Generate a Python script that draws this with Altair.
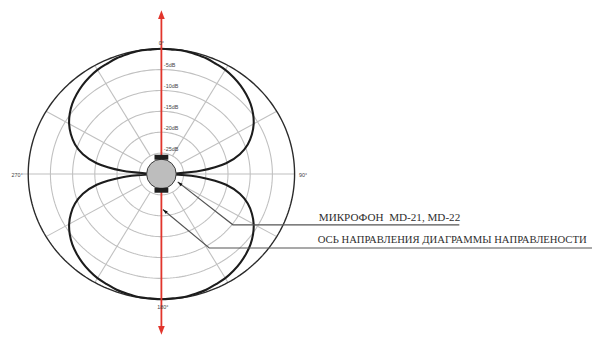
import altair as alt
import pandas as pd
import numpy as np

# ---- data ----
# figure-8 pattern, one quadrant (angle from axis in degrees, level in dB)
quad_angles = [0, 5, 10, 15, 20, 25, 30, 35, 40, 45, 50, 55, 60, 65, 70, 75, 80, 85, 87.5, 90]
quad_db = [0, -0.1, -0.1, -0.3, -0.5, -0.9, -1.2, -1.7, -2.3, -3.0, -3.8, -4.8, -6.0, -7.5,
           -9.3, -11.7, -15.2, -21.2, -27.0, -30.0]
ring_db = [-25, -20, -15, -10, -5]
ring_labels = ["-25dB", "-20dB", "-15dB", "-10dB", "-5dB"]
spoke_angles = [0, 30, 60, 90, 120, 150, 180, 210, 240, 270, 300, 330]
angle_labels = ["0°", "90°", "180°", "270°"]
caption1 = "МИКРОФОН\u00a0 MD-21, MD-22"
caption2 = "ОСЬ НАПРАВЛЕНИЯ ДИАГРАММЫ НАПРАВЛЕНОСТИ"
DB_MIN = -30.0

# ---- geometry of the drawing (pixel calibration) ----
PX_X, PX_Y = 4.5, 4.233        # pixels per radial unit (1 dB)
CX, CY = 163.5, 174.0           # centre of the diagram on the page
W, H = 593, 330
x_dom = [(8 - CX) / PX_X, (8 + W - CX) / PX_X]
y_dom = [(CY - 8 - H) / PX_Y, (CY - 8) / PX_Y]
xs = alt.Scale(domain=x_dom, nice=False, zero=False)
ys = alt.Scale(domain=y_dom, nice=False, zero=False)


def ux(px):
    return (px - CX) / PX_X


def uy(py):
    return (CY - py) / PX_Y


def polar(theta_deg, r):
    t = np.radians(theta_deg)
    return r * np.sin(t), r * np.cos(t)


X = alt.X("x:Q", scale=xs, axis=None)
Y = alt.Y("y:Q", scale=ys, axis=None)

# rings
rows = []
th = np.linspace(0, 360, 241)
for d in ring_db + [0]:
    for i, t in enumerate(th):
        x, y = polar(t, d - DB_MIN)
        rows.append({"ring": d, "i": i, "x": x, "y": y})
ring_df = pd.DataFrame(rows)

rings = alt.Chart(ring_df[ring_df.ring < 0]).mark_line(
    color="#c0c0c0", strokeWidth=1.1
).encode(x=X, y=Y, detail="ring:N", order="i:Q")
outer = alt.Chart(ring_df[ring_df.ring == 0]).mark_line(
    color="#2b2b2b", strokeWidth=1.4
).encode(x=X, y=Y, order="i:Q")

# spokes
sp = []
for a in spoke_angles:
    x1, y1 = polar(a, ring_db[0] - DB_MIN)
    x2, y2 = polar(a, (31.2 if a == 270 else 30.0))
    sp.append({"x": x1, "y": y1, "x2": x2, "y2": y2})
spokes = alt.Chart(pd.DataFrame(sp)).mark_rule(color="#c0c0c0", strokeWidth=1.1).encode(
    x=X, y=Y, x2="x2:Q", y2="y2:Q")

# pattern curve
seq = []
for a, d in zip(quad_angles[::-1], quad_db[::-1]):
    seq.append((-a, d))
for a, d in zip(quad_angles[1:], quad_db[1:]):
    seq.append((a, d))
for a, d in zip(quad_angles[::-1][1:], quad_db[::-1][1:]):
    seq.append((180 - a, d))
for a, d in zip(quad_angles[1:], quad_db[1:]):
    seq.append((180 + a, d))
pat = []
for i, (t, d) in enumerate(seq):
    x, y = polar(t, d - DB_MIN)
    pat.append({"i": i, "x": x, "y": y})
pattern = alt.Chart(pd.DataFrame(pat)).mark_line(
    color="#1c1c1c", strokeWidth=2.1, interpolate="catmull-rom"
).encode(x=X, y=Y, order="i:Q")

# dB labels
lab = pd.DataFrame({"x": [ux(166)] * 5, "y": [d - DB_MIN + 1.0 for d in ring_db], "t": ring_labels})
db_text = alt.Chart(lab).mark_text(
    align="left", baseline="middle", fontSize=5.5, font="Liberation Sans", color="#444"
).encode(x=X, y=Y, text="t:N")

# angle labels
ang = pd.DataFrame({
    "x": [0, ux(303), 0.3, ux(23)],
    "y": [uy(41), uy(175), uy(309), uy(175)],
    "t": angle_labels,
    "al": ["center", "left", "center", "right"],
})
ang_text_c = alt.Chart(ang[ang.al == "center"]).mark_text(
    align="center", baseline="middle", fontSize=5.5, font="Liberation Sans", color="#444"
).encode(x=X, y=Y, text="t:N")
ang_text_l = alt.Chart(ang[ang.al == "left"]).mark_text(
    align="left", baseline="middle", fontSize=5.5, font="Liberation Sans", color="#444"
).encode(x=X, y=Y, text="t:N")
ang_text_r = alt.Chart(ang[ang.al == "right"]).mark_text(
    align="right", baseline="middle", fontSize=5.5, font="Liberation Sans", color="#444"
).encode(x=X, y=Y, text="t:N")

# red axis arrow
red_line = alt.Chart(pd.DataFrame({"x": [0], "y": [uy(13)], "y2": [uy(332)]})).mark_rule(
    color="#e2352c", strokeWidth=1.8).encode(x=X, y=Y, y2="y2:Q")
red_heads = alt.Chart(pd.DataFrame({"x": [0, 0], "y": [uy(12.5), uy(332.5)], "a": [0, 180]})).mark_point(
    shape="M0,-1L0.75,1L-0.75,1Z", size=81, filled=True, color="#e2352c", opacity=1
).encode(x=X, y=Y, angle=alt.Angle("a:Q", scale=None))

# microphone
mic = alt.Chart(pd.DataFrame({"x": [0], "y": [0]})).mark_point(
    shape="circle", size=900, filled=True, fill="#bdbdbd", stroke="#3a3a3a", strokeWidth=1, opacity=1
).encode(x=X, y=Y)
caps = alt.Chart(pd.DataFrame({
    "x": [ux(156.5), ux(156.5)], "x2": [ux(170.5), ux(170.5)],
    "y": [uy(154.5), uy(188.0)], "y2": [uy(159.5), uy(193.0)],
})).mark_rect(color="#1e1e1e").encode(x=X, y=Y, x2="x2:Q", y2="y2:Q")

# leader lines
lead = pd.DataFrame({
    "g": [1, 1, 1, 2, 2, 2],
    "i": [0, 1, 2, 0, 1, 2],
    "x": [ux(180), ux(236), ux(465.5), ux(165), ux(212), ux(600)],
    "y": [uy(182), uy(225.5), uy(225.5), uy(210), uy(249), uy(249)],
})
leaders = alt.Chart(lead).mark_line(color="#555", strokeWidth=1.2).encode(
    x=X, y=Y, detail="g:N", order="i:Q")
heads = alt.Chart(pd.DataFrame({
    "x": [ux(180), ux(165)], "y": [uy(182), uy(210)], "a": [308, 310]
})).mark_point(shape="M0,0L0.7,2.3L-0.7,2.3Z", size=20, filled=True, color="#111", opacity=1).encode(
    x=X, y=Y, angle=alt.Angle("a:Q", scale=None))

cap1 = alt.Chart(pd.DataFrame({"x": [ux(323)], "y": [uy(221.5)], "t": [caption1]})).mark_text(
    align="left", baseline="alphabetic", fontSize=11.3, font="Liberation Serif", color="#2e2e2e"
).encode(x=X, y=Y, text="t:N")
cap2 = alt.Chart(pd.DataFrame({"x": [ux(322)], "y": [uy(244)], "t": [caption2]})).mark_text(
    align="left", baseline="alphabetic", fontSize=10.8, font="Liberation Serif", color="#2e2e2e"
).encode(x=X, y=Y, text="t:N")

chart = alt.layer(
    rings, spokes, outer, pattern, leaders, heads, red_line, red_heads, mic, caps,
    db_text, ang_text_c, ang_text_l, ang_text_r, cap1, cap2
).properties(
    width=W, height=H, padding=0, autosize=alt.AutoSizeParams(type="none"), background="white"
).configure_view(stroke=None)

chart.save("out.html", embed_options={"renderer": "svg", "actions": False})
